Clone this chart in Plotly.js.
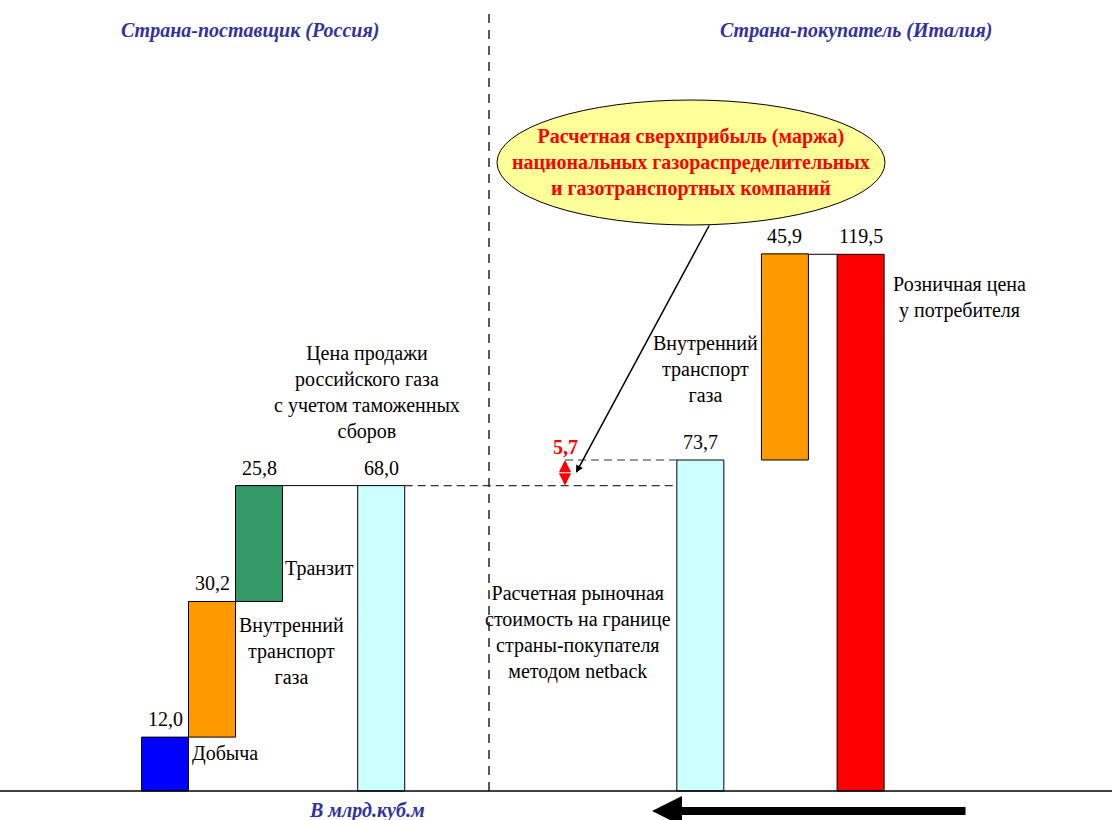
<!DOCTYPE html>
<html><head><meta charset="utf-8">
<script src="https://cdn.plot.ly/plotly-3.0.1.min.js"></script>
<style>html,body{margin:0;padding:0;background:#fff}#chart{width:1112px;height:820px}</style>
</head><body><div id="chart"></div>
<script>
// ---- data ----
const categories = ['Добыча', 'Внутренний транспорт газа', 'Транзит',
  'Цена продажи российского газа с учетом таможенных сборов',
  'Расчетная рыночная стоимость на границе страны-покупателя методом netback',
  'Внутренний транспорт газа (Италия)', 'Розничная цена у потребителя'];
const values = [12.0, 30.2, 25.8, 68.0, 73.7, 45.9, 119.5];
const kinds = ['step', 'step', 'step', 'total', 'total', 'step', 'total'];
const sideLabels = ['Добыча', 'Внутренний<br>транспорт<br>газа', 'Транзит',
  'Цена продажи<br>российского газа<br>с учетом таможенных<br>сборов',
  'Расчетная рыночная<br>стоимость на границе<br>страны-покупателя<br>методом netback',
  'Внутренний<br>транспорт<br>газа', 'Розничная цена<br>у потребителя'];
const regionTitles = ['Страна-поставщик (Россия)', 'Страна-покупатель (Италия)'];
const unitLabel = 'В млрд.куб.м';
const calloutText = 'Расчетная сверхприбыль (маржа)<br>национальных газораспределительных<br>и газотранспортных компаний';

// ---- layout / style (not data) ----
const barColors = ['#0000FF', '#FF9900', '#339966', '#CCFFFF', '#CCFFFF', '#FF9900', '#FF0000'];
const slots = [0, 1, 2, 4.6, 11.39, 13.19, 14.8];
const W = 1112, H = 820, BASE_PX = 791, SLOT_PX = 47, X0_PX = 165;
const K = (BASE_PX - 254.3) / values[6];   // px per unit
const FONT = '"Liberation Serif", "Times New Roman", serif';
const FS = 20;
const fmt = v => v.toFixed(1).replace('.', ',');
const P = (px, py) => ({x: px / W, y: 1 - py / H, xref: 'paper', yref: 'paper', xanchor: 'center', yanchor: 'middle'});
const slotOfPx = px => (px - X0_PX) / SLOT_PX;

// waterfall bases
let run = 0; const bases = [], tops = [];
values.forEach((v, i) => {
  if (kinds[i] === 'step') { bases.push(run); run += v; } else { bases.push(0); run = v; }
  tops.push(bases[i] + v);
});
const marginVal = values[4] - values[3];

const trace = {
  type: 'bar', x: slots, y: values, base: bases, width: 1,
  text: categories, hoverinfo: 'text', textposition: 'none',
  marker: {color: barColors, line: {color: '#000', width: 1}},
  cliponaxis: false
};

const ann = [];
// value labels above bars
values.forEach((v, i) => ann.push({x: slots[i], y: tops[i], xref: 'x', yref: 'y', text: fmt(v),
  showarrow: false, xanchor: 'center', yanchor: 'bottom', yshift: 5, font: {family: FONT, size: FS, color: '#000'}}));
// side labels
const sidePos = [[225, 753], [291, 651], [319, 568], [367, 392], [578, 632], [705, 369], [959, 297]];
sideLabels.forEach((t, i) => ann.push(Object.assign(P(sidePos[i][0], sidePos[i][1]), {text: t, showarrow: false,
  align: 'center', font: {family: FONT, size: FS, color: '#000'}})));
// region titles
const titleFont = {family: FONT, size: FS, color: '#333399'};
ann.push(Object.assign(P(250, 30), {text: '<b><i>' + regionTitles[0] + '</i></b>', showarrow: false, font: titleFont}));
ann.push(Object.assign(P(856, 30), {text: '<b><i>' + regionTitles[1] + '</i></b>', showarrow: false, font: titleFont}));
ann.push(Object.assign(P(367, 810), {text: '<b><i>' + unitLabel + '</i></b>', showarrow: false, font: titleFont}));
// callout text
ann.push(Object.assign(P(691, 163), {text: '<b>' + calloutText + '</b>', showarrow: false, align: 'center',
  font: {family: FONT, size: FS, color: '#FF0000'}}));
// margin double arrow
const arrowX = slotOfPx(565);
const midVal = (values[3] + values[4]) / 2;
ann.push({x: arrowX, y: values[4], ax: arrowX, ay: midVal, xref: 'x', yref: 'y', axref: 'x', ayref: 'y',
  text: '', showarrow: true, arrowhead: 2, arrowsize: 0.7, arrowwidth: 3.5, arrowcolor: '#FF0000'});
ann.push({x: arrowX, y: values[3], ax: arrowX, ay: midVal, xref: 'x', yref: 'y', axref: 'x', ayref: 'y',
  text: '', showarrow: true, arrowhead: 2, arrowsize: 0.7, arrowwidth: 3.5, arrowcolor: '#FF0000'});
ann.push({x: arrowX, y: values[4], xref: 'x', yref: 'y', text: '<b>' + fmt(marginVal) + '</b>', showarrow: false,
  xanchor: 'center', yanchor: 'bottom', yshift: 0, font: {family: FONT, size: FS, color: '#FF0000'}});
// pointer from callout
ann.push({x: slotOfPx(576), y: midVal, ax: slotOfPx(710), ay: (BASE_PX - 224) / K,
  xref: 'x', yref: 'y', axref: 'x', ayref: 'y', text: '', showarrow: true, arrowhead: 2, arrowsize: 1,
  arrowwidth: 1.5, arrowcolor: '#000'});
// bottom direction arrow
ann.push({x: 652 / W, y: 1 - 811 / H, xref: 'paper', yref: 'paper', ax: 315, ay: 0, text: '', showarrow: true,
  arrowhead: 2, arrowsize: 0.75, arrowwidth: 8, arrowcolor: '#000'});

const shapes = [
  {type: 'line', xref: 'paper', yref: 'y', x0: 0, x1: 1, y0: 0, y1: 0, line: {color: '#000', width: 1.5}},
  {type: 'line', xref: 'paper', yref: 'paper', x0: 489 / W, x1: 489 / W, y0: 1 - BASE_PX / H, y1: 1 - 12 / H,
    line: {color: '#000', width: 1.3, dash: '9px,7px'}},
  {type: 'line', xref: 'x', yref: 'y', x0: slots[2] + 0.5, x1: slots[3] - 0.5, y0: tops[2], y1: tops[2], line: {color: '#000', width: 1}},
  {type: 'line', xref: 'x', yref: 'y', x0: slots[3] + 0.5, x1: slots[4] - 0.5, y0: values[3], y1: values[3], line: {color: '#333', width: 1.2, dash: '8px,5px'}},
  {type: 'line', xref: 'x', yref: 'y', x0: arrowX, x1: slots[4] - 0.5, y0: values[4], y1: values[4], line: {color: '#333', width: 1.2, dash: '8px,5px'}},
  {type: 'line', xref: 'x', yref: 'y', x0: slots[5] + 0.5, x1: slots[6] - 0.5, y0: values[6], y1: values[6], line: {color: '#000', width: 1}},
  {type: 'circle', xref: 'paper', yref: 'paper', x0: 497 / W, x1: 885 / W, y0: 1 - 225 / H, y1: 1 - 100 / H,
    fillcolor: '#FFFF99', line: {color: '#000', width: 1}, layer: 'below'}
];

const layout = {
  width: W, height: H, margin: {l: 0, r: 0, t: 0, b: 0},
  paper_bgcolor: '#fff', plot_bgcolor: 'rgba(0,0,0,0)', showlegend: false,
  xaxis: {range: [-X0_PX / SLOT_PX, (W - X0_PX) / SLOT_PX], visible: false, fixedrange: true},
  yaxis: {range: [-(H - BASE_PX) / K, BASE_PX / K], visible: false, fixedrange: true},
  annotations: ann, shapes: shapes, font: {family: FONT}
};
Plotly.newPlot('chart', [trace], layout, {displayModeBar: false, staticPlot: true});
</script></body></html>
